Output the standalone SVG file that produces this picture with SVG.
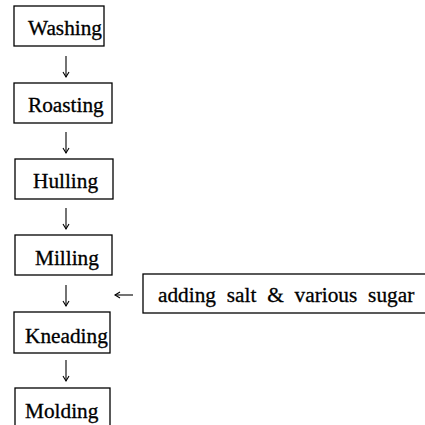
<svg xmlns="http://www.w3.org/2000/svg" width="425" height="425" viewBox="0 0 425 425">
<defs>
<style>
.box{fill:#fff;stroke:#000;stroke-width:1.3}
.t{font-family:"Liberation Serif","Times New Roman",serif;font-size:21.3px;fill:#000;stroke:#000;stroke-width:0.3}
.c{stroke:#000;stroke-width:1.1;fill:none}
</style>
<marker id="ah" markerWidth="8" markerHeight="8" refX="6" refY="4" orient="auto" markerUnits="userSpaceOnUse">
<path d="M1,1 L6,4 L1,7" fill="none" stroke="#000" stroke-width="1.1"/>
</marker>
</defs>
<rect width="425" height="425" fill="#fff"/>
<g id="washing"><rect class="box" x="14" y="6" width="90" height="40"/><text class="t" x="28" y="35">Washing</text></g>
<g id="roasting"><rect class="box" x="14" y="83" width="98" height="40"/><text class="t" x="28" y="112">Roasting</text></g>
<g id="hulling"><rect class="box" x="15" y="159" width="98" height="40"/><text class="t" x="33" y="188">Hulling</text></g>
<g id="milling"><rect class="box" x="15" y="235" width="97" height="40"/><text class="t" x="35" y="265">Milling</text></g>
<g id="kneading"><rect class="box" x="14" y="312" width="96" height="41"/><text class="t" x="25" y="343">Kneading</text></g>
<g id="molding"><rect class="box" x="15" y="388" width="95" height="50"/><text class="t" x="25" y="418">Molding</text></g>
<g id="additive"><rect class="box" x="143" y="274" width="290" height="39"/><text class="t" x="158" y="302" word-spacing="5.5">adding salt &amp; various sugar</text></g>
<g id="connectors">
<line class="c" x1="66" y1="56" x2="66" y2="77" marker-end="url(#ah)"/>
<line class="c" x1="66" y1="132" x2="66" y2="153" marker-end="url(#ah)"/>
<line class="c" x1="66" y1="208" x2="66" y2="229" marker-end="url(#ah)"/>
<line class="c" x1="66" y1="285" x2="66" y2="306" marker-end="url(#ah)"/>
<line class="c" x1="66" y1="360" x2="66" y2="381" marker-end="url(#ah)"/>
<line class="c" x1="133" y1="295" x2="115" y2="295" marker-end="url(#ah)"/>
</g>
</svg>
